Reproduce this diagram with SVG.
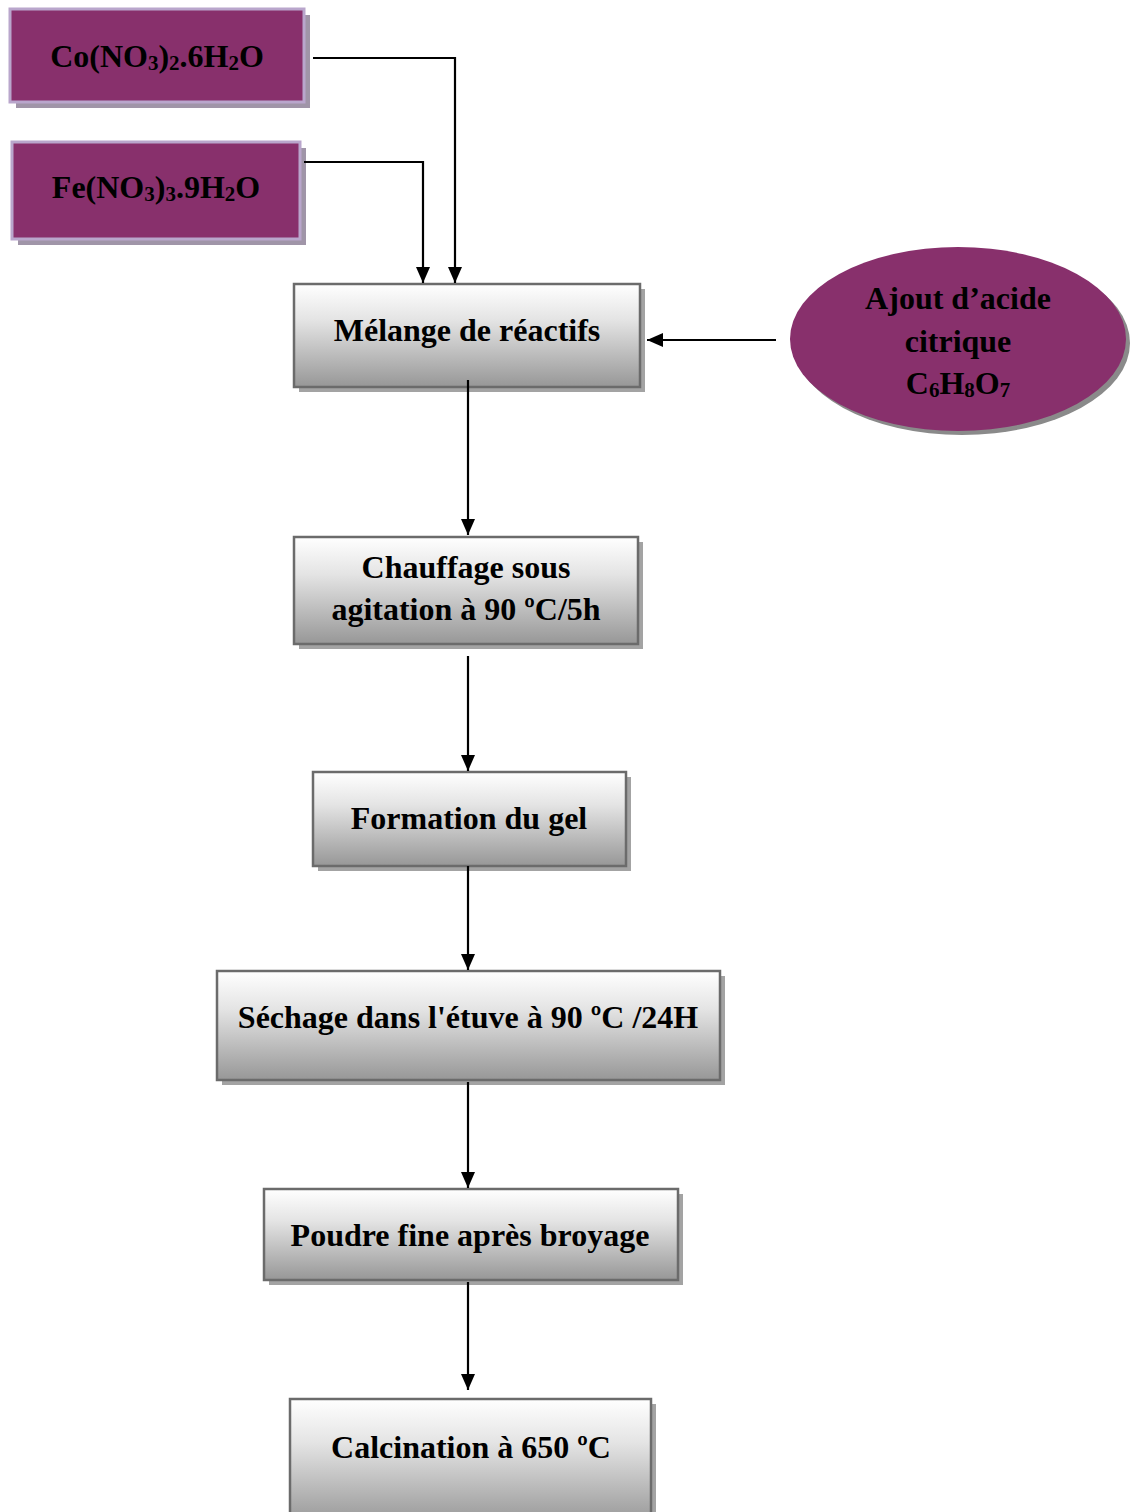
<svg xmlns="http://www.w3.org/2000/svg" width="1139" height="1512" viewBox="0 0 1139 1512">
<style>
text{font-family:"Liberation Serif","Times New Roman",serif;font-weight:bold;font-size:32px;fill:#000;text-anchor:middle}
.sub{font-size:21px}
.proc{fill:url(#g);stroke:#6b6b6b;stroke-width:2.5}
.shadow{fill:#a3a3a3}
.purp{fill:#88306c;stroke:#b9a6cc;stroke-width:3}
.pshadow{fill:#a095a8}
.conn{fill:none;stroke:#000;stroke-width:2.2}
</style>
<defs>
<linearGradient id="g" x1="0" y1="0" x2="0" y2="1">
<stop offset="0" stop-color="#ffffff"/>
<stop offset="0.35" stop-color="#e4e4e4"/>
<stop offset="1" stop-color="#979797"/>
</linearGradient>
<marker id="ah" markerWidth="16" markerHeight="16" viewBox="0 0 16 16" refX="16" refY="8" orient="auto" markerUnits="userSpaceOnUse">
<path d="M0,1 L16,8 L0,15 Z" fill="#000"/>
</marker>
</defs>
<rect width="1139" height="1512" fill="#fff"/>

<g id="co">
<rect class="pshadow" x="16" y="15" width="294" height="93"/>
<rect class="purp" x="10" y="9" width="294" height="93"/>
<text x="157" y="67">Co(NO<tspan class="sub" dy="3">3</tspan><tspan dy="-3">)</tspan><tspan class="sub" dy="3">2</tspan><tspan dy="-3">.6H</tspan><tspan class="sub" dy="3">2</tspan><tspan dy="-3">O</tspan></text>
</g>

<g id="fe">
<rect class="pshadow" x="18" y="148" width="288" height="97"/>
<rect class="purp" x="12" y="142" width="288" height="97"/>
<text x="156" y="198">Fe(NO<tspan class="sub" dy="3">3</tspan><tspan dy="-3">)</tspan><tspan class="sub" dy="3">3</tspan><tspan dy="-3">.9H</tspan><tspan class="sub" dy="3">2</tspan><tspan dy="-3">O</tspan></text>
</g>

<g id="melange">
<rect class="shadow" x="299" y="289" width="346" height="103"/>
<rect class="proc" x="294" y="284" width="346" height="103"/>
<text x="467" y="341">Mélange de réactifs</text>
</g>

<g id="acide">
<ellipse cx="962" cy="343" rx="168" ry="92" fill="#8a8a8a"/>
<ellipse cx="958" cy="339" rx="168" ry="92" fill="#88306c"/>
<text x="958" y="309">Ajout d’acide</text>
<text x="958" y="352">citrique</text>
<text x="958" y="394">C<tspan class="sub" dy="3">6</tspan><tspan dy="-3">H</tspan><tspan class="sub" dy="3">8</tspan><tspan dy="-3">O</tspan><tspan class="sub" dy="3">7</tspan></text>
</g>

<g id="chauffage">
<rect class="shadow" x="299" y="542" width="344" height="107"/>
<rect class="proc" x="294" y="537" width="344" height="107"/>
<text x="466" y="578">Chauffage sous</text>
<text x="466" y="620">agitation à 90 ºC/5h</text>
</g>

<g id="formation">
<rect class="shadow" x="318" y="777" width="313" height="94"/>
<rect class="proc" x="313" y="772" width="313" height="94"/>
<text x="469" y="829">Formation du gel</text>
</g>

<g id="sechage">
<rect class="shadow" x="222" y="976" width="503" height="109"/>
<rect class="proc" x="217" y="971" width="503" height="109"/>
<text x="468" y="1028">Séchage dans l'étuve à 90 ºC /24H</text>
</g>

<g id="poudre">
<rect class="shadow" x="269" y="1194" width="414" height="91"/>
<rect class="proc" x="264" y="1189" width="414" height="91"/>
<text x="470" y="1246">Poudre fine après broyage</text>
</g>

<g id="calcination">
<rect class="shadow" x="295" y="1404" width="361" height="120"/>
<rect class="proc" x="290" y="1399" width="361" height="125"/>
<text x="471" y="1458">Calcination à 650 ºC</text>
</g>

<g id="connectors">
<path class="conn" d="M313,58 H455 V283" marker-end="url(#ah)"/>
<path class="conn" d="M304,162 H423 V283" marker-end="url(#ah)"/>
<path class="conn" d="M776,340 H647" marker-end="url(#ah)"/>
<path class="conn" d="M468,380 V535" marker-end="url(#ah)"/>
<path class="conn" d="M468,656 V771" marker-end="url(#ah)"/>
<path class="conn" d="M468,866 V970" marker-end="url(#ah)"/>
<path class="conn" d="M468,1082 V1188" marker-end="url(#ah)"/>
<path class="conn" d="M468,1282 V1390" marker-end="url(#ah)"/>
</g>
</svg>
